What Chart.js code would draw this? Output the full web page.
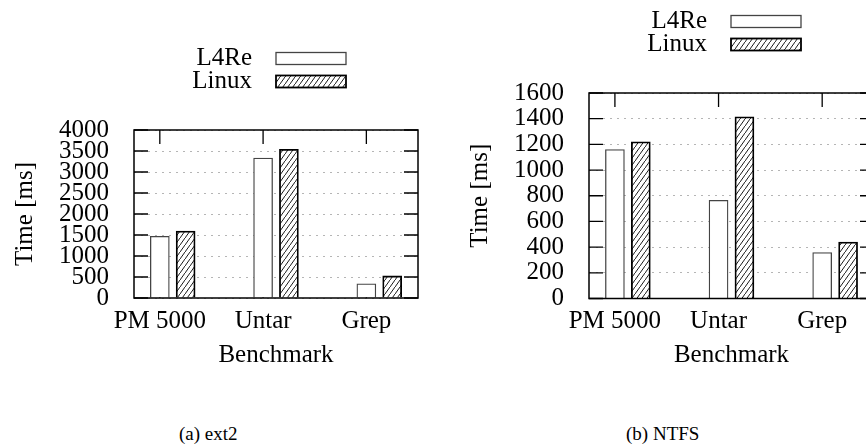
<!DOCTYPE html>
<html lang="en">
<head>
<meta charset="UTF-8">
<title>L4Re vs Linux file systems</title>
<script src="https://cdn.jsdelivr.net/npm/chart.js@4.4.0/dist/chart.umd.min.js"></script>
<style>
  html, body { margin: 0; padding: 0; background: #fff; }
  #wrap { position: relative; width: 866px; height: 448px; overflow: hidden; }
  canvas { position: absolute; top: 0; }
  #ext2 { left: 0; }
  #ntfs { left: 440px; }
  .caption { position: absolute; top: 424px; font: 19px "Liberation Serif", "Times New Roman", "DejaVu Serif", serif; line-height: 19px; color: #000; white-space: nowrap; }
</style>
</head>
<body>
<div id="wrap">
  <canvas id="ext2" width="440" height="380"></canvas>
  <canvas id="ntfs" width="460" height="380"></canvas>
  <div class="caption" style="left:179px">(a) ext2</div>
  <div class="caption" style="left:626px">(b) NTFS</div>
</div>
<script>
// data
const benchmarks = ["PM 5000", "Untar", "Grep"];
const ext2L4Re  = [1470, 3330, 340];
const ext2Linux = [1595, 3540, 525];
const ntfsL4Re  = [1160, 765, 357];
const ntfsLinux = [1220, 1415, 440];
const ext2Max = 4000, ext2Step = 500;
const ntfsMax = 1600, ntfsStep = 200;

const serif = '"Liberation Serif", "Times New Roman", "DejaVu Serif", serif';

// hatch "/" pattern for the Linux bars
function hatch() {
  const w = 5, h = 7;
  const c = document.createElement("canvas");
  c.width = w; c.height = h;
  const g = c.getContext("2d");
  g.fillStyle = "#fff";
  g.fillRect(0, 0, w, h);
  g.strokeStyle = "#000";
  g.lineWidth = 0.9;
  g.beginPath();
  g.moveTo(-w, 2 * h); g.lineTo(2 * w, -h);
  g.stroke();
  return g.createPattern(c, "repeat");
}
const linuxFill = hatch();

// frame ticks pointing inward (drawn under the bars)
const tickPlugin = {
  id: "inTicks",
  beforeDatasetsDraw(chart) {
    const { ctx, chartArea: a, scales } = chart;
    ctx.save();
    ctx.strokeStyle = "#000";
    ctx.lineWidth = 1.3;
    ctx.beginPath();
    scales.y.ticks.forEach(t => {
      const py = scales.y.getPixelForValue(t.value);
      ctx.moveTo(a.left, py); ctx.lineTo(a.left + 14, py);
      ctx.moveTo(a.right, py); ctx.lineTo(a.right - 14, py);
    });
    scales.x.ticks.forEach(t => {
      const px = scales.x.getPixelForValue(t.value);
      ctx.moveTo(px, a.top); ctx.lineTo(px, a.top + 14);
      ctx.moveTo(px, a.bottom); ctx.lineTo(px, a.bottom - 14);
    });
    ctx.stroke();
    ctx.restore();
  },
  afterDatasetsDraw(chart) {
    const { ctx, chartArea: a } = chart;
    ctx.save();
    ctx.strokeStyle = "#000";
    ctx.lineWidth = 1.5;
    ctx.strokeRect(a.left, a.top, a.right - a.left, a.bottom - a.top);
    ctx.restore();
  }
};

// gnuplot style key: text on the left, sample box on the right
const keyPlugin = {
  id: "key",
  afterDraw(chart) {
    const { ctx, chartArea: a } = chart;
    ctx.save();
    ctx.font = "25px " + serif;
    ctx.textAlign = "right";
    ctx.textBaseline = "alphabetic";
    chart.data.datasets.forEach((ds, i) => {
      const bx = a.left + 142, by = a.top - 77.5 + i * 23;
      ctx.fillStyle = ds.backgroundColor;
      ctx.fillRect(bx, by, 70, 12);
      ctx.strokeStyle = ds.borderColor;
      ctx.lineWidth = ds.borderWidth;
      ctx.strokeRect(bx, by, 70, 12);
      ctx.fillStyle = "#000";
      ctx.fillText(ds.label, bx - 24, by + 12.5);
    });
    ctx.restore();
  }
};

function makeChart(id, l4re, linux, yMax, yStep, box) {
  return new Chart(document.getElementById(id), {
    type: "bar",
    data: {
      datasets: [
        {
          label: "L4Re",
          data: benchmarks.map((b, i) => ({ x: i, y: l4re[i] })),
          backgroundColor: "#fff",
          borderColor: "#444",
          borderWidth: 1.3
        },
        {
          label: "Linux",
          data: benchmarks.map((b, i) => ({ x: i + 0.25, y: linux[i] })),
          backgroundColor: linuxFill,
          borderColor: "#000",
          borderWidth: 1.8
        }
      ]
    },
    options: {
      responsive: false,
      animation: false,
      grouped: false,
      barThickness: 19,
      layout: { padding: { top: box.top, right: box.right, left: 0, bottom: 0 } },
      plugins: { legend: { display: false }, tooltip: { enabled: false } },
      scales: {
        x: {
          type: "linear",
          offset: false,
          min: -0.25,
          max: 2.5,
          afterBuildTicks: s => { s.ticks = benchmarks.map((b, i) => ({ value: i })); },
          afterFit: s => { s.height = box.xHeight; },
          grid: { display: false, drawTicks: false, offset: false },
          border: { display: false },
          ticks: {
            autoSkip: false,
            maxRotation: 0,
            padding: 8,
            color: "#000",
            font: { family: serif, size: 25 },
            callback: v => benchmarks[v]
          },
          title: {
            display: true,
            text: "Benchmark",
            color: "#000",
            font: { family: serif, size: 25 },
            padding: { top: 0, bottom: 10 }
          }
        },
        y: {
          min: 0,
          max: yMax,
          afterFit: s => { s.width = box.yWidth; },
          grid: { color: "#b5b5b5", lineWidth: 1, drawTicks: false },
          border: { display: false, dash: [2, 5] },
          ticks: {
            stepSize: yStep,
            autoSkip: false,
            padding: 25,
            color: "#000",
            font: { family: serif, size: 25, lineHeight: 1 },
            callback: v => String(v)
          },
          title: {
            display: true,
            text: "Time [ms]",
            color: "#000",
            font: { family: serif, size: 25 },
            padding: { top: box.yTitlePad, bottom: 0 }
          }
        }
      }
    },
    plugins: [tickPlugin, keyPlugin]
  });
}

makeChart("ext2", ext2L4Re, ext2Linux, ext2Max, ext2Step,
  { top: 130, right: 22, yWidth: 134, xHeight: 82, yTitlePad: 10 });
makeChart("ntfs", ntfsL4Re, ntfsLinux, ntfsMax, ntfsStep,
  { top: 93, right: 26, yWidth: 149, xHeight: 81.5, yTitlePad: 25 });
</script>
</body>
</html>
